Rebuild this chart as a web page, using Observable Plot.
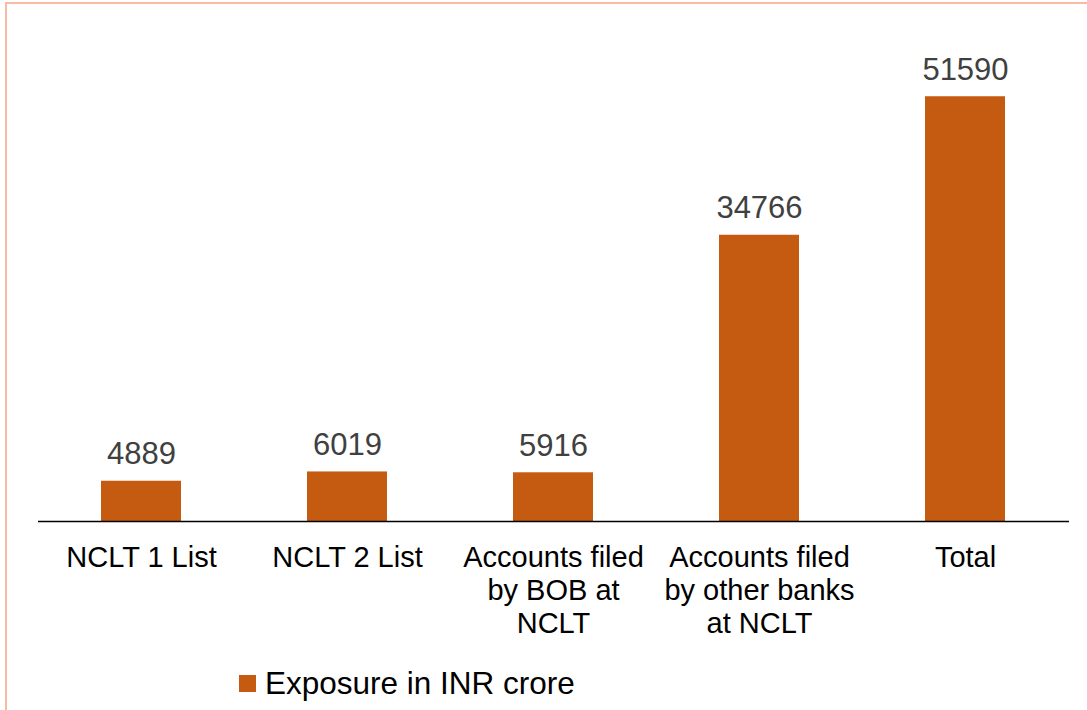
<!DOCTYPE html>
<html>
<head>
<meta charset="utf-8">
<script src="https://cdn.jsdelivr.net/npm/d3@7"></script>
<script src="https://cdn.jsdelivr.net/npm/@observablehq/plot@0.6"></script>
<style>
  html, body { margin: 0; padding: 0; background: #fff; }
  body { width: 1087px; height: 710px; position: relative; overflow: hidden; font-family: "Liberation Sans", Arial, sans-serif; }
  #frame { position: absolute; left: 5px; top: 2px; width: 1200px; height: 800px; border-top: 2px solid #f9bba4; border-left: 2px solid #f9bba4; box-sizing: border-box; pointer-events: none; }
  #chart { position: absolute; left: 0; top: 0; }
  #legend { position: absolute; left: 239px; top: 665px; display: flex; align-items: center; font-size: 31.5px; color: #000; }
  #legend .sw { width: 17px; height: 17px; background: #c55a11; margin-right: 9px; }
</style>
</head>
<body>
<div id="frame"></div>
<div id="chart"></div>
<div id="legend"><span class="sw"></span><span class="lbl"></span></div>
<script>
const categories = ["NCLT 1 List", "NCLT 2 List", "Accounts filed by BOB at NCLT", "Accounts filed by other banks at NCLT", "Total"];
const tickLabels = ["NCLT 1 List", "NCLT 2 List", "Accounts filed\nby BOB at\nNCLT", "Accounts filed\nby other banks\nat NCLT", "Total"];
const values = [4889, 6019, 5916, 34766, 51590];
const seriesName = "Exposure in INR crore";

const data = categories.map((c, i) => ({category: c, value: values[i], tick: tickLabels[i]}));
const tickMap = new Map(categories.map((c, i) => [c, tickLabels[i]]));

const chart = Plot.plot({
  width: 1087,
  height: 660,
  marginLeft: 38,
  marginRight: 18,
  marginTop: 27,
  marginBottom: 139,
  style: {fontFamily: "'Liberation Sans', Arial, sans-serif", background: "transparent"},
  x: {domain: categories, paddingInner: 0.61, paddingOuter: 0.305, label: null},
  y: {domain: [0, 60000], axis: null},
  marks: [
    Plot.barY(data, {x: "category", y: "value", fill: "#c55a11"}),
    Plot.ruleY([0], {stroke: "#000", strokeWidth: 1.5}),
    Plot.text(data, {x: "category", y: "value", text: d => String(d.value), lineAnchor: "bottom", dy: -17, fontSize: 31, fill: "#404040"}),
    Plot.axisX({tickSize: 0, tickPadding: 22, fontSize: 29, lineHeight: 1.14, tickFormat: d => tickMap.get(d), fill: "#000", label: null})
  ]
});
document.getElementById("chart").appendChild(chart);
document.querySelector("#legend .lbl").textContent = seriesName;
</script>
</body>
</html>
